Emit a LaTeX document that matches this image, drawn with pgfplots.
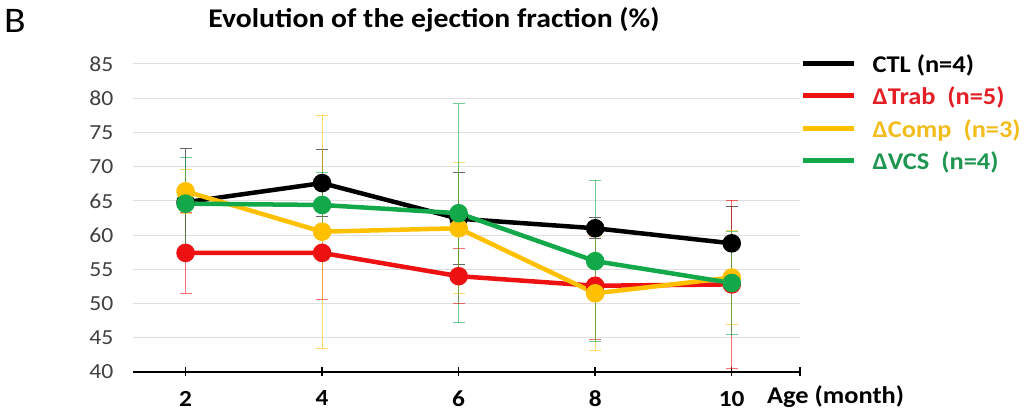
\documentclass[border=0pt]{standalone}
\usepackage{fontspec}
\setmainfont[FakeStretch=1.1]{Carlito}
\usepackage{pgfplots}
\pgfplotsset{compat=1.18}

\definecolor{ctl}{HTML}{000000}
\definecolor{trab}{HTML}{EE1111}
\definecolor{comp}{HTML}{FFC000}
\definecolor{vcs}{HTML}{13A84A}
\definecolor{trabtxt}{HTML}{E31E24}
\definecolor{comptxt}{HTML}{F2BC1C}
\definecolor{vcstxt}{HTML}{1E9650}
\definecolor{ylab}{HTML}{404040}

\pgfplotsset{
  ebar/.style={forget plot, draw=none, mark=none,
    error bars/.cd, y dir=both, y explicit,
    error bar style={draw=#1, solid, line width=1pt, draw opacity=0.6},
    error mark options={rotate=90, draw=#1, line width=1pt, mark size=6pt, draw opacity=0.6}},
  ser/.style={color=#1, line width=4.5pt, mark=*, mark size=7pt, mark options={solid, fill=#1}},
}

\begin{document}
\begin{tikzpicture}[x=1pt,y=1pt]
\path (0,0) rectangle (1028,412);
\node[anchor=west, font=\fontsize{36}{36}\selectfont, inner sep=0pt] at (4,391) {B};
\node[font=\bfseries\fontsize{27}{27}\selectfont] at (434,392) {Evolution of the ejection fraction (\%)};
\node[anchor=west, font=\bfseries\fontsize{24}{24}\selectfont, inner sep=0pt] at (767,15) {Age (month)};

\begin{axis}[
  at={(133pt,40pt)}, anchor=south west,
  scale only axis, width=667pt, height=308pt,
  xmin=1.23, xmax=11, ymin=40, ymax=85,
  xtick={2,4,6,8,10},
  extra x ticks={11}, extra x tick labels={},
  ytick={40,45,...,85},
  axis x line*=bottom, axis y line*=left,
  x axis line style={-, line width=1.5pt},
  y axis line style={draw=none},
  ytick style={draw=none},
  xtick style={line width=1.5pt, black},
  xtick align=center, major tick length=9pt,
  ymajorgrids, grid style={line width=1pt, gray!25},
  /pgf/number format/assume math mode=true,
  yticklabel style={font=\fontsize{21.5}{21.5}\selectfont, text=ylab, xshift=-16pt},
  xticklabel style={font=\bfseries\fontsize{23}{23}\selectfont, yshift=-11pt},
  legend style={at={(0.996,1.036)}, anchor=north west, draw=none, fill=none,
    font=\bfseries\fontsize{24}{24}\selectfont, row sep=10.5pt,
    nodes={inner sep=0pt, text height=17pt, text depth=5pt},
    /tikz/every odd column/.append style={column sep=16pt}},
  legend cell align=left,
  legend image code/.code={\draw[#1, mark=none, line width=5pt] (0pt,3pt) -- (51pt,3pt);},
]
% error bars first, behind the lines
\addplot[ebar=ctl] coordinates {(2,64.8)+-(0,7.8) (4,67.6)+-(0,4.9) (6,62.4)+-(0,6.7) (8,61.0)+-(0,1.5) (10,58.8)+-(0,5.4)};
\addplot[ebar=trab] coordinates {(2,57.4)+-(0,5.9) (4,57.4)+-(0,6.8) (6,54.0)+-(0,4.0) (8,52.6)+-(0,7.8) (10,52.8)+-(0,12.3)};
\addplot[ebar=comp] coordinates {(2,66.4)+-(0,3.2) (4,60.5)+-(0,17.0) (6,61.0)+-(0,9.6) (8,51.5)+-(0,8.3) (10,53.8)+-(0,6.9)};
\addplot[ebar=vcs] coordinates {(2,64.6)+-(0,6.7) (4,64.4)+-(0,4.8) (6,63.2)+-(0,16.0) (8,56.2)+-(0,11.8) (10,53.0)+-(0,7.5)};

\addplot[ser=ctl] coordinates {(2,64.8) (4,67.6) (6,62.4) (8,61.0) (10,58.8)};
\addlegendentry{CTL (n=4)}
\addplot[ser=trab] coordinates {(2,57.4) (4,57.4) (6,54.0) (8,52.6) (10,52.8)};
\addlegendentry{\textcolor{trabtxt}{ΔTrab\ \ (n=5)}}
\addplot[ser=comp] coordinates {(2,66.4) (4,60.5) (6,61.0) (8,51.5) (10,53.8)};
\addlegendentry{\textcolor{comptxt}{ΔComp\ \ (n=3)}}
\addplot[ser=vcs] coordinates {(2,64.6) (4,64.4) (6,63.2) (8,56.2) (10,53.0)};
\addlegendentry{\textcolor{vcstxt}{ΔVCS\ \ (n=4)}}
\end{axis}
\end{tikzpicture}
\end{document}
